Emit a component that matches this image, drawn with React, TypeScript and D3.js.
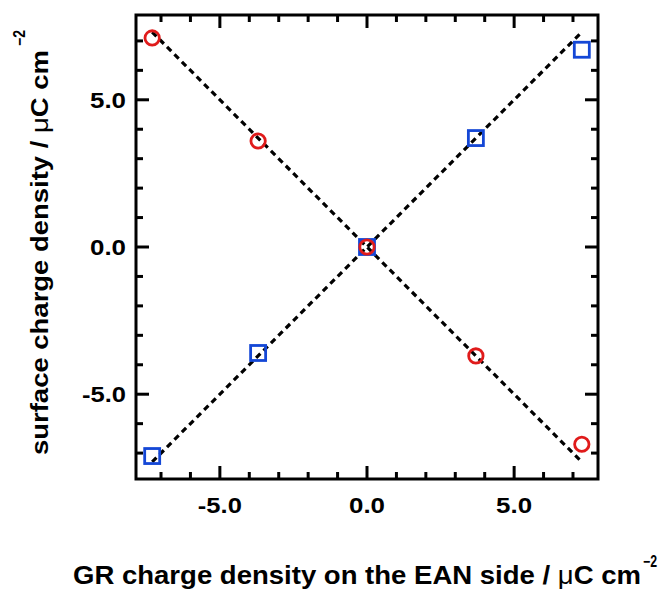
import React from "react";
import * as d3 from "d3";

const xValues = [-7.3, -3.7, 0, 3.7, 7.3];
const redY = [7.1, 3.6, 0, -3.7, -6.7];
const blueY = [-7.1, -3.6, 0, 3.7, 6.7];
const lineRed = [[-7.3, 7.3], [7.3, -7.3]];
const lineBlue = [[-7.3, -7.3], [7.3, 7.3]];
const majorTicks = [-5, 0, 5];
const minorTicks = [-7, -6, -4, -3, -2, -1, 1, 2, 3, 4, 6, 7];

const W = 662, H = 591;
const L = 136, R = 598, T = 15, B = 479;

export default function App() {
  const x = d3.scaleLinear().domain([-7.85, 7.85]).range([L, R]);
  const y = d3.scaleLinear().domain([-7.88, 7.88]).range([B, T]);
  const line = d3.line<number[]>().x(d => x(d[0])).y(d => y(d[1]));
  const font = "'Liberation Sans', Arial, sans-serif";
  const majLen = 13, minLen = 7;
  const ticks: JSX.Element[] = [];
  [...majorTicks.map(v => [v, majLen]), ...minorTicks.map(v => [v, minLen])].forEach(([v, len], i) => {
    ticks.push(<line key={"xb" + i} x1={x(v)} x2={x(v)} y1={B} y2={B - len} />);
    ticks.push(<line key={"xt" + i} x1={x(v)} x2={x(v)} y1={T} y2={T + len} />);
    ticks.push(<line key={"yl" + i} x1={L} x2={L + len} y1={y(v)} y2={y(v)} />);
    ticks.push(<line key={"yr" + i} x1={R} x2={R - len} y1={y(v)} y2={y(v)} />);
  });
  const sq = 15;
  const labelLen = (v: number) => (v < 0 ? 44 : 36);
  return (
    <svg width={W} height={H} style={{ position: "absolute", left: 0, top: 0 }} fontFamily={font}>
      <rect width={W} height={H} fill="#fff" />
      <path d={line(lineRed as any) || ""} stroke="#000" strokeWidth={3.2} strokeDasharray="6,4.5" fill="none" />
      <path d={line(lineBlue as any) || ""} stroke="#000" strokeWidth={3.2} strokeDasharray="6,4.5" fill="none" />
      {xValues.map((v, i) => (
        <rect key={"b" + i} x={x(v) - sq / 2} y={y(blueY[i]) - sq / 2} width={sq} height={sq}
          fill="none" stroke="#1447d6" strokeWidth={2.8} />
      ))}
      {xValues.map((v, i) => (
        <circle key={"r" + i} cx={x(v)} cy={y(redY[i])} r={7.2} fill="none" stroke="#e01b1b" strokeWidth={2.8} />
      ))}
      <g stroke="#000" strokeWidth={3}>{ticks}</g>
      <rect x={L} y={T} width={R - L} height={B - T} fill="none" stroke="#000" strokeWidth={3} />
      {majorTicks.map(v => (
        <text key={"xl" + v} x={x(v) - labelLen(v) / 2} y={513} fontSize={22} fontWeight="bold"
          textLength={labelLen(v)} lengthAdjust="spacingAndGlyphs">{v.toFixed(1)}</text>
      ))}
      {majorTicks.map(v => (
        <text key={"yl" + v} x={126 - labelLen(v)} y={y(v) + 8} fontSize={22} fontWeight="bold"
          textLength={labelLen(v)} lengthAdjust="spacingAndGlyphs">{v.toFixed(1)}</text>
      ))}
      <text x={73} y={584} fontSize={26} fontWeight="bold" textLength={568} lengthAdjust="spacingAndGlyphs">
        GR charge density on the EAN side / <tspan fontWeight="normal">μ</tspan>C cm
      </text>
      <text x={643} y={567} fontSize={16} fontWeight="bold" textLength={14} lengthAdjust="spacingAndGlyphs">−2</text>
      <g transform="translate(48, 455) rotate(-90)">
        <text x={0} y={0} fontSize={23.5} fontWeight="bold" textLength={405} lengthAdjust="spacingAndGlyphs">
          surface charge density / <tspan fontWeight="normal">μ</tspan>C cm
        </text>
      </g>
      <g transform="translate(25, 46) rotate(-90)">
        <text x={0} y={0} fontSize={16} fontWeight="bold" textLength={16} lengthAdjust="spacingAndGlyphs">−2</text>
      </g>
    </svg>
  );
}
